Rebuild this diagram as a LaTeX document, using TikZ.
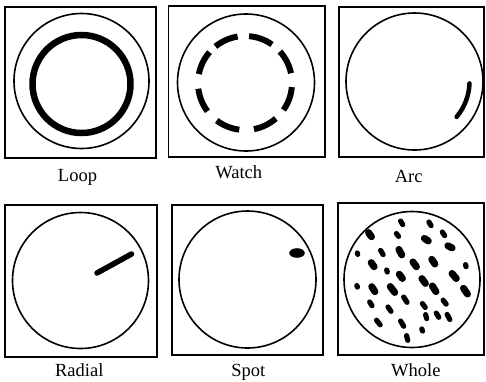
\documentclass[tikz,border=0pt]{standalone}
\usepackage{fontspec}
\setmainfont{Liberation Serif}
\begin{document}
\begin{tikzpicture}[x=1pt,y=-1pt,
  panel/.style={line width=1.3pt},
  wafer/.style={line width=1.6pt},
  lbl/.style={anchor=base,inner sep=0pt,font=\fontsize{18.5}{22}\selectfont},
  ringline/.style={line width=6.5pt},
  wdash/.style={line width=6pt},
  arcline/.style={line width=4.5pt,line cap=round},
  radline/.style={line width=5.5pt,line cap=round},
  thin/.style={line width=5.2pt,line cap=round,shorten <=2.4pt,shorten >=2.4pt},
  thick/.style={line width=7pt,line cap=round,shorten <=3.2pt,shorten >=3.2pt}]
\useasboundingbox (0,0) rectangle (486,381);

% Loop
\draw[panel] (5,7) rectangle (156,158);
\draw[wafer] (81.5,81) circle[radius=67.5];
\draw[ringline] (81.5,84) circle[radius=49];
\node[lbl] (loop) at (77.5,181.7) {Loop};

% Watch
\draw[panel] (168.5,6) rectangle (325,157);
\draw[wafer] (246,82.5) circle[radius=68.5];
\coordinate (wc) at (245,83);
\foreach \c in {-114,-70,-27,20,64,112,158,-154}{
  \draw[wdash] ([shift={(\c-15:47)}]wc) arc[start angle=\c-15,end angle=\c+15,radius=47];
}
\node[lbl] (watch) at (238.7,178.3) {Watch};

% Arc
\draw[panel] (339,7) rectangle (484,157);
\draw[wafer] (414.5,81.5) circle[radius=68.5];
\coordinate (ac) at (414.5,81.5);
\draw[arcline] ([shift={(2:55)}]ac) arc[start angle=2,end angle=40,radius=55];
\node[lbl] (arc) at (408.7,182) {Arc};

% Radial
\draw[panel] (5,205) rectangle (157,357);
\draw[wafer] (80.5,280.5) circle[radius=68];
\coordinate (r1) at (97,273);
\coordinate (r2) at (131.5,254);
\draw[radline] (r1) -- (r2);
\node[lbl] (radial) at (79.3,376.5) {Radial};

% Spot
\draw[panel] (172,205) rectangle (323,355);
\draw[wafer] (247.5,279.5) circle[radius=68.5];
\fill (297,253) ellipse[x radius=7.8,y radius=4.8];
\node[lbl] (spot) at (248.3,376.5) {Spot};

% Whole
\draw[panel] (338,203) rectangle (484,355);
\draw[wafer] (412,279.5) circle[radius=68];
\begin{scope}[x=0.3333pt,y=-0.3333pt,shift={(340pt,-205pt)}]
\draw[thin]  (178,42) -- (192,65);
\draw[thin]  (263,45) -- (277,68);
\draw[thick] (80,75) -- (100,103);
\draw[thin]  (165,80) -- (180,100);
\draw[thick] (245,95) -- (273,113);
\draw[thin]  (303,75) -- (318,98);
\draw[thick] (315,118) -- (345,133);
\draw[thin]  (50,137) -- (55,155);
\draw[thin]  (118,130) -- (133,155);
\draw[thick] (172,125) -- (190,158);
\draw[thick] (270,155) -- (290,185);
\draw[thin]  (375,172) -- (380,192);
\draw[thick] (88,165) -- (108,193);
\draw[thin]  (138,188) -- (144,208);
\draw[thick] (213,163) -- (235,193);
\draw[thick] (172,200) -- (193,228);
\draw[thick] (330,198) -- (355,228);
\draw[thick] (240,213) -- (262,243);
\draw[thick] (272,235) -- (293,268);
\draw[thin]  (48,235) -- (55,253);
\draw[thick] (90,237) -- (110,268);
\draw[thick] (145,237) -- (170,270);
\draw[thick] (365,242) -- (388,275);
\draw[thin]  (85,285) -- (100,308);
\draw[thin]  (140,300) -- (157,325);
\draw[thin]  (187,270) -- (205,298);
\draw[thin]  (243,290) -- (260,313);
\draw[thin]  (305,280) -- (323,303);
\draw[thin]  (255,322) -- (262,348);
\draw[thin]  (285,318) -- (300,343);
\draw[thin]  (318,322) -- (333,350);
\draw[thin]  (105,340) -- (125,365);
\draw[thin]  (178,342) -- (195,370);
\draw[thin]  (243,365) -- (250,385);
\draw[thin]  (198,385) -- (205,413);
\end{scope}
\node[lbl] (whole) at (415.8,376) {Whole};
\end{tikzpicture}
\end{document}
